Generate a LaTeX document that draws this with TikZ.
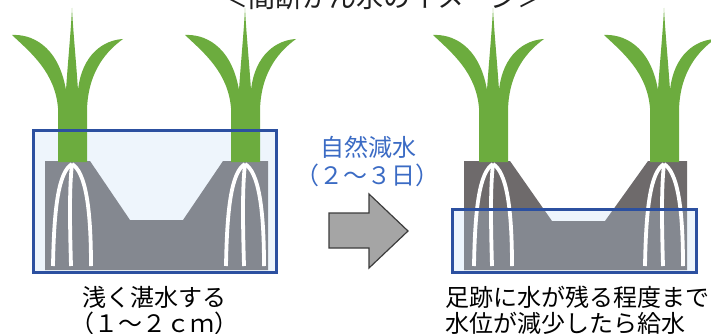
\documentclass[tikz,border=0pt]{standalone}
\usepackage{fontspec}
\newfontfamily\jpfont{Noto Sans CJK JP}
\definecolor{leafgreen}{RGB}{108,172,62}
\definecolor{soilgray}{RGB}{110,106,107}
\definecolor{watertint}{RGB}{192,218,244}
\definecolor{waterblue}{RGB}{44,80,160}
\definecolor{notegblue}{RGB}{59,107,196}
\definecolor{arrowfill}{RGB}{165,165,165}
\definecolor{arrowline}{RGB}{60,60,60}
\begin{document}
\begin{tikzpicture}[x=1pt,y=-1pt,
  every node/.style={inner sep=0pt,outer sep=0pt},
  soil/.style={fill=soilgray},
  water/.style={fill=watertint,fill opacity=0.27},
  waterline/.style={draw=waterblue,line width=3pt},
  leaf/.style={fill=leafgreen},
  rootline/.style={draw=white,line width=3.8pt},
  bigarrow/.style={fill=arrowfill,draw=arrowline,line width=1.2pt,line join=miter},
  label/.style={font=\jpfont\fontsize{24}{28}\selectfont},
  bluelabel/.style={label,text=notegblue},
  plant/.pic={
    \fill[leaf] (-14,162) -- (-14,108)
      .. controls (-17,72) and (-42,52) .. (-60,35)
      .. controls (-42,34) and (-14,44) .. (-6,90)
      .. controls (-4,60) and (-1,30) .. (0,8)
      .. controls (1,30) and (4,60) .. (6,90)
      .. controls (10,54) and (32,40) .. (51,39)
      .. controls (36,50) and (16,70) .. (15,110)
      -- (15,162) -- cycle;
    \draw[rootline] (0,164) .. controls (-13,172) and (-18,205) .. (-19,266);
    \draw[rootline] (0,164) .. controls (-3,190) and (-2,230) .. (-1,266);
    \draw[rootline] (0,164) .. controls (13,172) and (19,205) .. (19,266);
  }]
\useasboundingbox (0,0) rectangle (711,334);
\clip (0,0) rectangle (711,334);

% title, partly above the page edge
\node[anchor=base,font=\jpfont\fontsize{27}{30}\selectfont,text=black!88] (title) at (383,8) {＜間断かん水のイメージ＞};

% soil blocks with the trampled hollow between the hills
\fill[soil] (45,161) -- (90,161) -- (130,220) -- (183,220) -- (223,161) -- (268,161)
  -- (268,270) -- (45,270) -- cycle;
\fill[soil] (464,161) -- (510,161) -- (552,221) -- (605,221) -- (648,161) -- (687,161)
  -- (687,270) -- (464,270) -- cycle;

% water layers
\fill[water] (33.5,130.5) rectangle (276.5,272.5);
\fill[water] (452.5,209.5) rectangle (696.5,272.5);

% rice plants with roots
\pic at (72,0) {plant};
\pic at (245,0) {plant};
\pic at (493,0) {plant};
\pic at (664,0) {plant};

% water level outlines
\draw[waterline] (33.5,130.5) rectangle (276.5,272.5);
\draw[waterline] (452.5,209.5) rectangle (696.5,272.5);

% block arrow
\draw[bigarrow] (329,213) -- (369,213) -- (369,194) -- (408,231) -- (369,268)
  -- (369,248) -- (329,248) -- cycle;

% labels
\node[bluelabel,anchor=base] (drain) at (368,156) {自然減水};
\node[bluelabel,anchor=base] (days) at (367,184) {（２～３日）};
\node[label,anchor=base] (shallow) at (154,306) {浅く湛水する};
\node[label,anchor=base] (depth) at (154,332) {（１～２ｃｍ）};
\node[label,anchor=base west] (refill1) at (445,306) {足跡に水が残る程度まで};
\node[label,anchor=base west] (refill2) at (445,332) {水位が減少したら給水};
\end{tikzpicture}
\end{document}
